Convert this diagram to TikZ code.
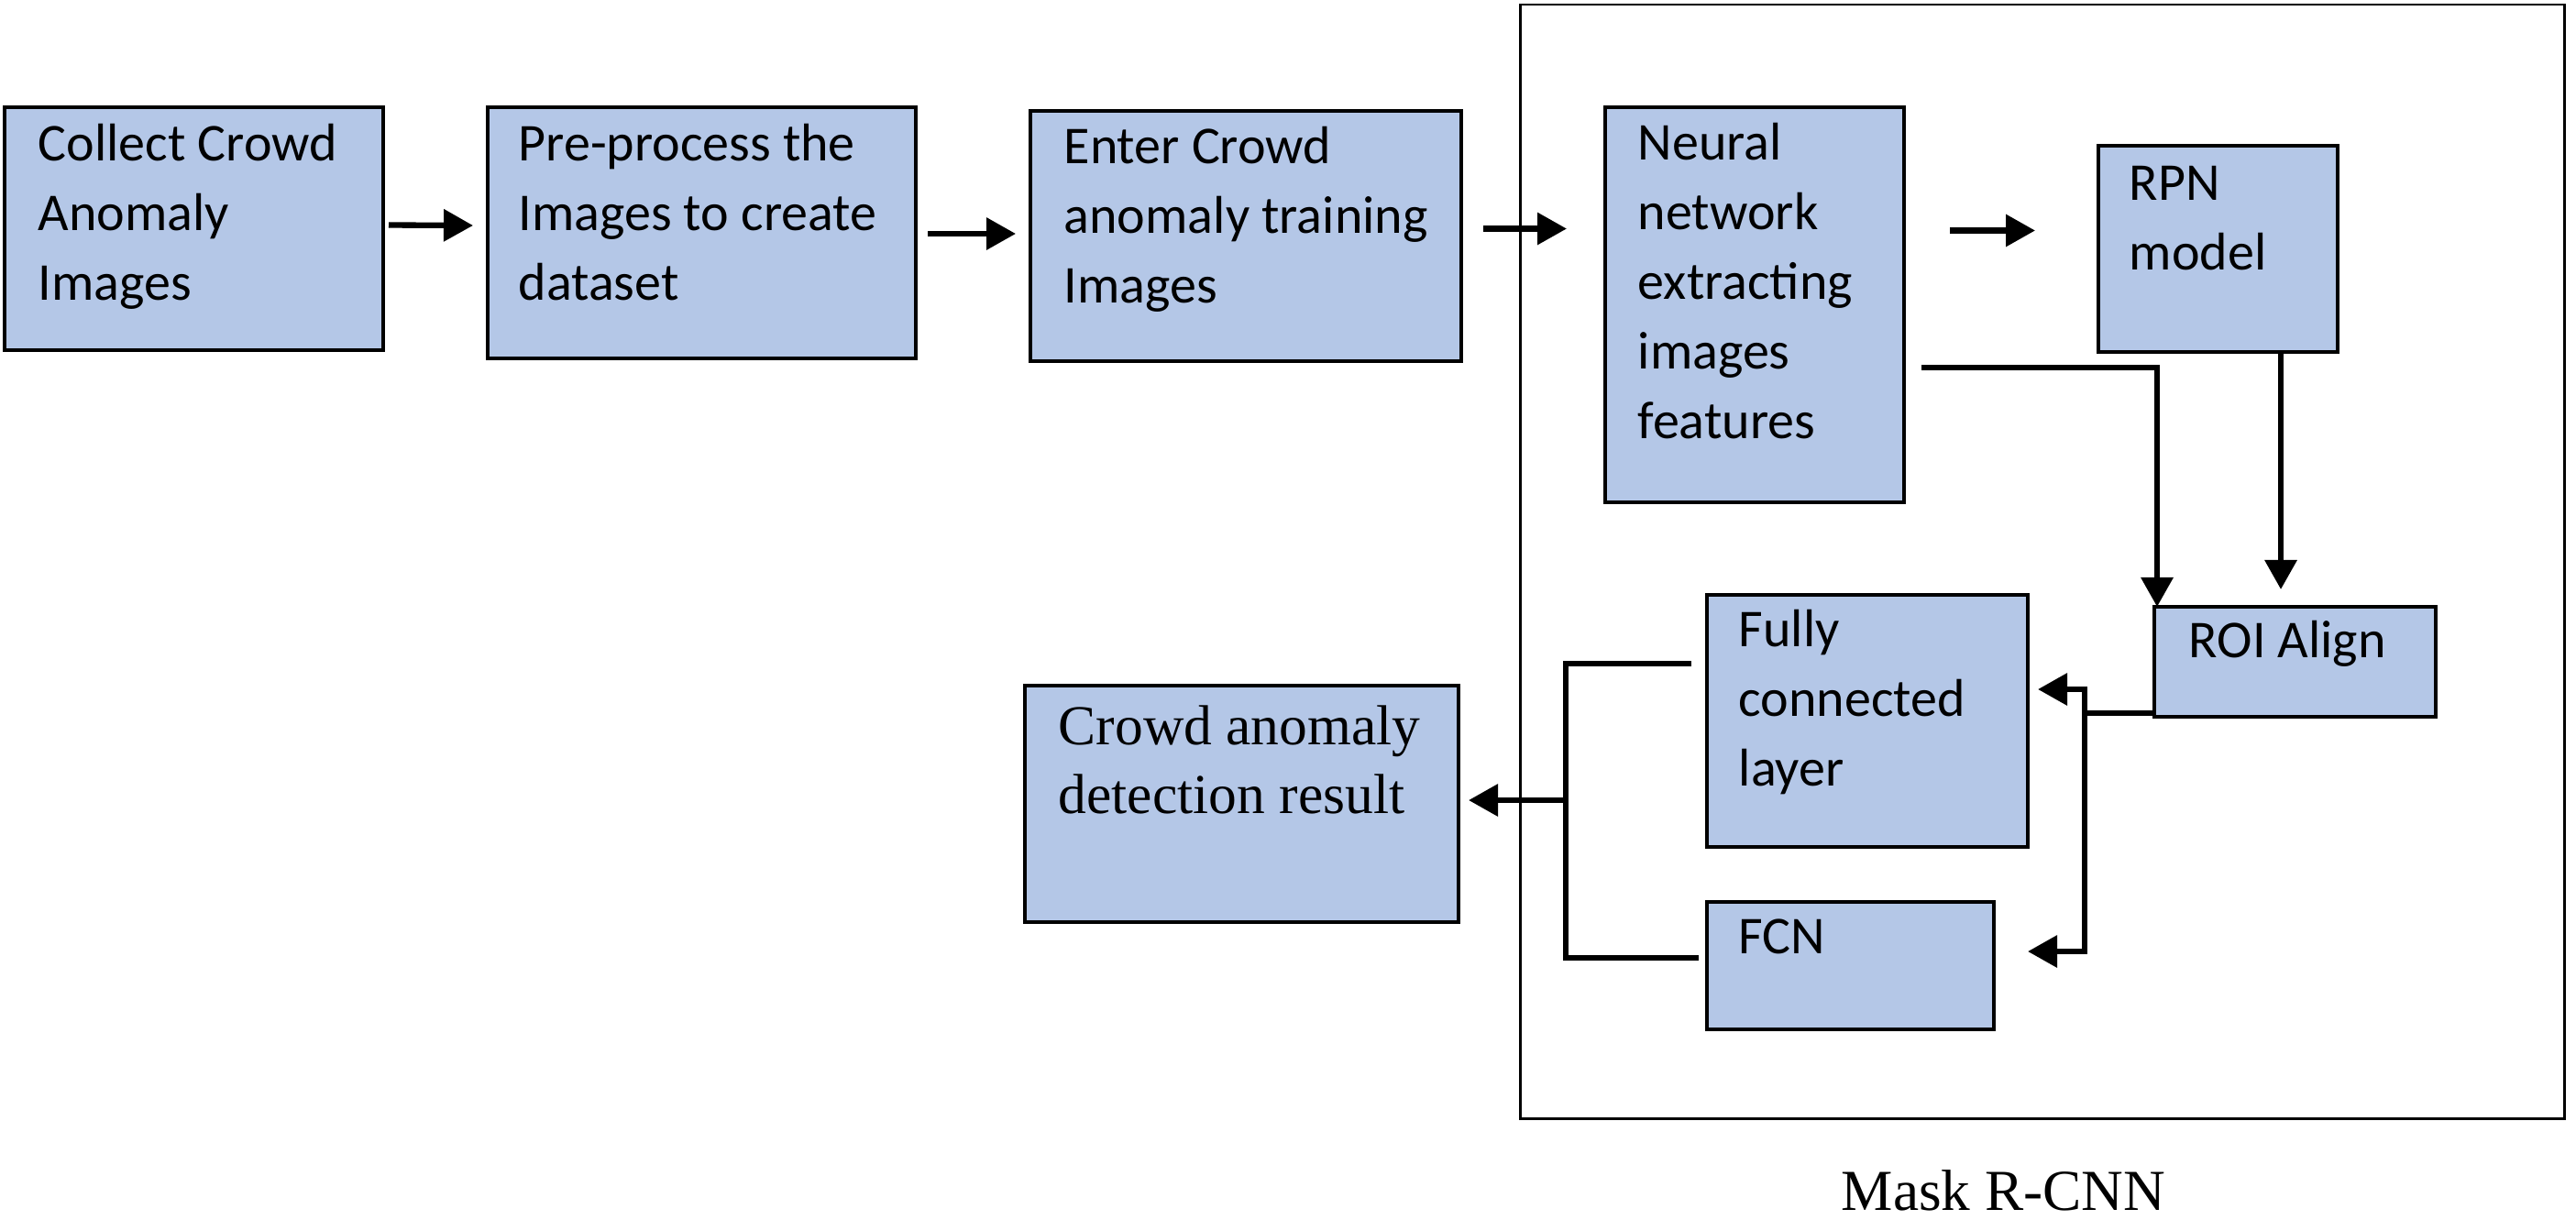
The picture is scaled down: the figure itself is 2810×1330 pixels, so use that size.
\documentclass[tikz,border=0pt]{standalone}
\usepackage{fontspec}
\setmainfont{Liberation Serif}
\newfontfamily\carlito{Carlito}
\usetikzlibrary{arrows.meta,calc}
\definecolor{boxblue}{HTML}{B4C7E7}
\tikzset{
  px/.style={x=0.01cm,y=-0.01cm},
  box/.style={draw=black,line width=1.2pt,fill=boxblue,inner sep=0pt,outer sep=0pt},
  frame/.style={draw=black,line width=0.85pt,inner sep=0pt,outer sep=0pt},
  txt/.style={font=\carlito\fontsize{16.5}{21.6}\selectfont,align=left,inner sep=0pt,anchor=base west},
  serif/.style={font=\fontsize{17.5}{21.3}\selectfont,align=left,inner sep=0pt,anchor=base west},
  arr/.style={line width=1.8pt,-{Triangle[length=0.32cm,width=0.34cm]}},
  conn/.style={line width=1.9pt},
}
\newcommand{\mybox}[6][box]{%
  \node[#1,minimum width={(#5-#3)*0.01cm},minimum height={(#6-#4)*0.01cm}] (#2) at ({(#3+#5)/2},{(#4+#6)/2}) {};}
\begin{document}
\begin{tikzpicture}[px]
\useasboundingbox (0,0) rectangle (2810,1330);
% frame
\mybox[frame]{mrcnn}{1658}{5}{2797}{1220}
\node[serif,font=\fontsize{18}{21}\selectfont] (cap) at (2008,1320) {Mask R-CNN};
% boxes
\mybox{b1}{5}{117}{418}{382}
\mybox{b2}{532}{117}{999}{391}
\mybox{b3}{1124}{121}{1594}{394}
\mybox{nn}{1751}{117}{2077}{548}
\mybox{rpn}{2289}{159}{2550}{384}
\mybox{roi}{2350}{662}{2657}{782}
\mybox{fc}{1862}{649}{2212}{924}
\mybox{fcn}{1862}{984}{2175}{1123}
\mybox{res}{1118}{748}{1591}{1006}
% texts (anchor = baseline of the last line)
\node[txt] (t1) at (41,327) {Collect Crowd\\Anomaly\\Images};
\node[txt] (t2) at (565,327) {Pre-process the\\Images to create\\dataset};
\node[txt] (t3) at (1160,330) {Enter Crowd\\anomaly training\\Images};
\node[txt] (tnn) at (1786,478) {Neural\\network\\extracting\\images\\features};
\node[txt] (trpn) at (2322,294) {RPN\\model};
\node[txt] (troi) at (2387,717) {ROI Align};
\node[txt] (tfc) at (1896,857) {Fully\\connected\\layer};
\node[txt] (tfcn) at (1896,1040) {FCN};
\node[serif] (tres) at (1154,887) {Crowd anomaly\\detection result};
% connectors
\draw[arr] ($(b1.east)+(6,-4)$) -- ($(b2.west)+(-16,-8)$);
\draw[arr] ($(b2.east)+(13,1)$) -- ($(b3.west)+(-16,-2.5)$);
\draw[arr] ($(b3.east)+(24,-8)$) -- ($(nn.west)+(-42,-83)$);
\draw[arr] ($(nn.east)+(50,-81)$) -- ($(rpn.west)+(-69,-20)$);
\draw[arr] ($(nn.east)+(19,68.5)$) -| ($(roi.north west)+(3,0)$);
\coordinate (rs) at ($(rpn.south)+(68.5,0)$);
\coordinate (re) at ($(roi.north)+(0,-19)$);
\draw[arr] (rs) -- (rs |- re);
\coordinate (jr) at ($(roi.south west)+(-76,-4)$);
\draw[conn] ($(roi.south west)+(0,-4)$) -- (jr);
\draw[arr] (jr) |- ($(fc.east)+(11,-34.5)$);
\draw[arr] (jr) |- ($(fcn.east)+(37,-15.5)$);
\coordinate (jl) at ($(res.east)+(117,-4)$);
\draw[conn] ($(fc.west)+(-17,-62.5)$) -| (jl) |- ($(fcn.west)+(-9,-8.5)$);
\draw[arr] (jl) -- ($(res.east)+(11,-4)$);
\end{tikzpicture}
\end{document}
